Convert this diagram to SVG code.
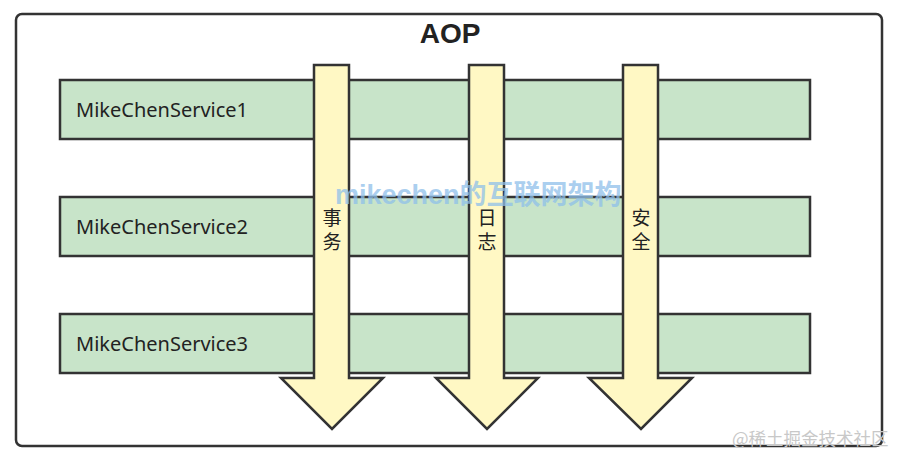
<svg xmlns="http://www.w3.org/2000/svg" width="907" height="464" viewBox="0 0 907 464">
<style>
.frame{fill:#fff;stroke:#333;stroke-width:2.5}
.bar{fill:#c8e4c9;stroke:#333;stroke-width:2.5}
.arrow{fill:#fff8c4;stroke:#333;stroke-width:2.5;stroke-linejoin:miter}
.lbl{font-family:"Noto Sans","Open Sans",sans-serif;font-size:20px;fill:#222}
.cjk{font-family:"Noto Sans CJK SC",sans-serif;font-size:19px;fill:#222;text-anchor:middle}
.title{font-family:"Liberation Sans",Arial,sans-serif;font-size:28px;font-weight:bold;fill:#222;text-anchor:middle}
.wm{font-family:"Liberation Sans","Noto Sans CJK SC",sans-serif;font-size:27px;font-weight:bold;fill:#8fc0ea;opacity:0.75}
.wm2{font-family:"Noto Sans CJK SC",sans-serif;font-size:17.5px;fill:#c8c8c8}
</style>
<rect width="907" height="464" fill="#fff"/>
<g id="aop">
<rect class="frame" x="16" y="14" width="866" height="432" rx="6"/>
<text class="title" x="450" y="43">AOP</text>
</g>
<g id="service1">
<rect class="bar" x="60" y="80" width="750" height="59"/>
<text class="lbl" x="76" y="117">MikeChenService1</text>
</g>
<g id="service2">
<rect class="bar" x="60" y="197" width="750" height="59"/>
<text class="lbl" x="76" y="234">MikeChenService2</text>
</g>
<g id="service3">
<rect class="bar" x="60" y="314" width="750" height="59"/>
<text class="lbl" x="76" y="351">MikeChenService3</text>
</g>
<g id="connectors">
<g id="tx">
<path class="arrow" d="M314,65 H349 V378 H383 L332,429 L281,378 H314 Z"/>
<text class="cjk" x="332" y="225">事<tspan x="332" dy="24">务</tspan></text>
</g>
<g id="log">
<path class="arrow" d="M469,65 H504 V378 H538 L487,429 L436,378 H469 Z"/>
<text class="cjk" x="487" y="225">日<tspan x="487" dy="24">志</tspan></text>
</g>
<g id="sec">
<path class="arrow" d="M623,65 H658 V378 H692 L641,429 L589,378 H623 Z"/>
<text class="cjk" x="641" y="225">安<tspan x="641" dy="24">全</tspan></text>
</g>
</g>
<text class="wm" x="335" y="204">mikechen的互联网架构</text>
<text class="wm2" x="732" y="445">@稀土掘金技术社区</text>
</svg>
